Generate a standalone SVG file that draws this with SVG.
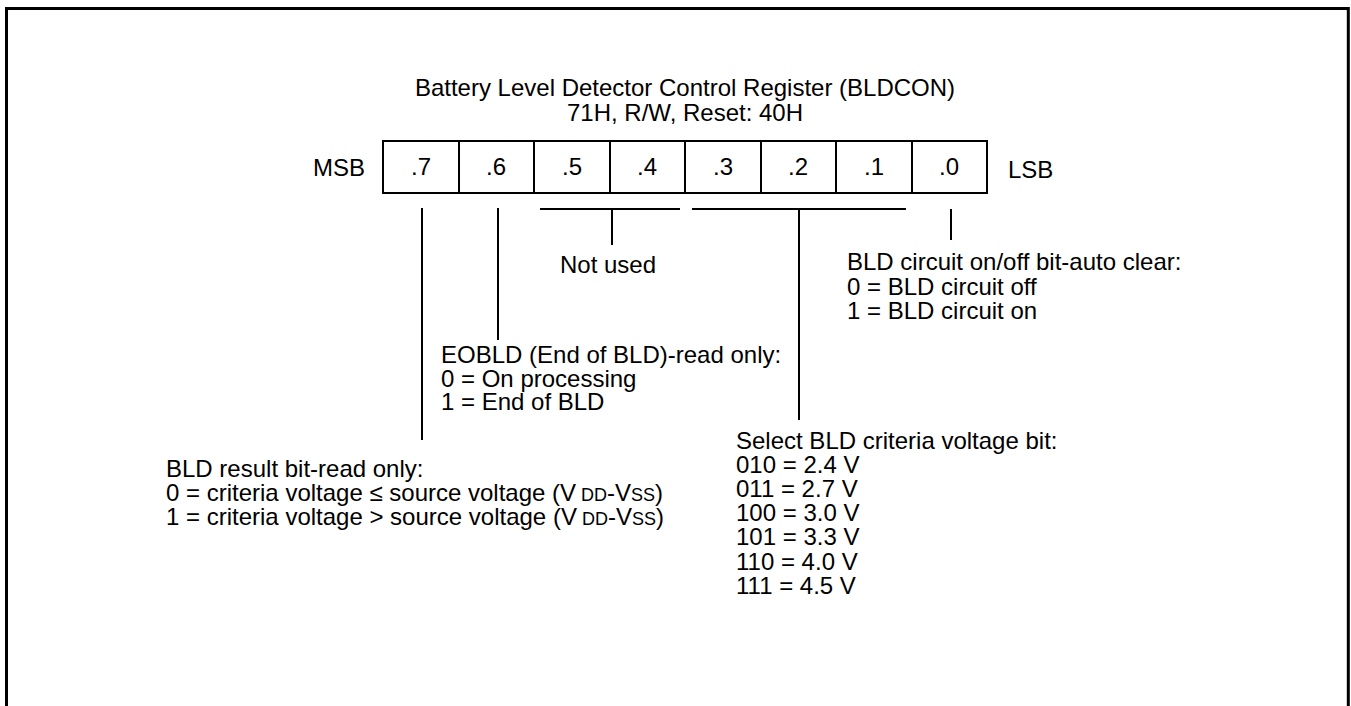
<svg xmlns="http://www.w3.org/2000/svg" width="1351" height="706" viewBox="0 0 1351 706">
<style>
text{font-family:"Liberation Sans",Arial,sans-serif;font-size:24px;fill:#000}
.c{text-anchor:middle}
.sm{font-size:18px}
.cell{fill:#fff;stroke:#000;stroke-width:2}
.ln{stroke:#000;stroke-width:2;fill:none}
</style>
<rect x="6.5" y="8.5" width="1341.8" height="800" fill="none" stroke="#000" stroke-width="3"/>
<g id="title">
<text class="c" x="685" y="96">Battery Level Detector Control Register (BLDCON)</text>
<text class="c" x="685" y="121">71H, R/W, Reset: 40H</text>
</g>
<g id="register">
<text x="313" y="176">MSB</text>
<text x="1008" y="178">LSB</text>
<rect class="cell" x="383" y="141" width="604" height="52"/>
<path class="ln" d="M459 141V193M534 141V193M610 141V193M685 141V193M761 141V193M836 141V193M912 141V193"/>
<text class="c" x="421" y="175">.7</text>
<text class="c" x="496" y="175">.6</text>
<text class="c" x="572" y="175">.5</text>
<text class="c" x="647" y="175">.4</text>
<text class="c" x="723" y="175">.3</text>
<text class="c" x="798" y="175">.2</text>
<text class="c" x="874" y="175">.1</text>
<text class="c" x="949" y="175">.0</text>
</g>
<g id="connectors">
<path class="ln" d="M422 208V440"/>
<path class="ln" d="M498 208V340"/>
<path class="ln" d="M540 209H680M612 209V245"/>
<path class="ln" d="M692 209H906M799 209V420"/>
<path class="ln" d="M951 209V240"/>
</g>
<g id="notused">
<text x="560" y="273">Not used</text>
</g>
<g id="bit0">
<text x="847" y="270">BLD circuit on/off bit-auto clear:</text>
<text x="847" y="295">0 = BLD circuit off</text>
<text x="847" y="319">1 = BLD circuit on</text>
</g>
<g id="bit6">
<text x="441" y="363">EOBLD (End of BLD)-read only:</text>
<text x="441" y="387">0 = On processing</text>
<text x="441" y="410">1 = End of BLD</text>
</g>
<g id="bit7">
<text x="166" y="477">BLD result bit-read only:</text>
<text x="166" y="501">0 = criteria voltage ≤ source voltage (V<tspan class="sm"> DD</tspan>-V<tspan class="sm">SS</tspan>)</text>
<text x="166" y="525">1 = criteria voltage &gt; source voltage (V<tspan class="sm"> DD</tspan>-V<tspan class="sm">SS</tspan>)</text>
</g>
<g id="bits321">
<text x="736" y="449">Select BLD criteria voltage bit:</text>
<text x="736" y="473">010 = 2.4 V</text>
<text x="736" y="497">011 = 2.7 V</text>
<text x="736" y="521">100 = 3.0 V</text>
<text x="736" y="545">101 = 3.3 V</text>
<text x="736" y="570">110 = 4.0 V</text>
<text x="736" y="594">111 = 4.5 V</text>
</g>
</svg>
